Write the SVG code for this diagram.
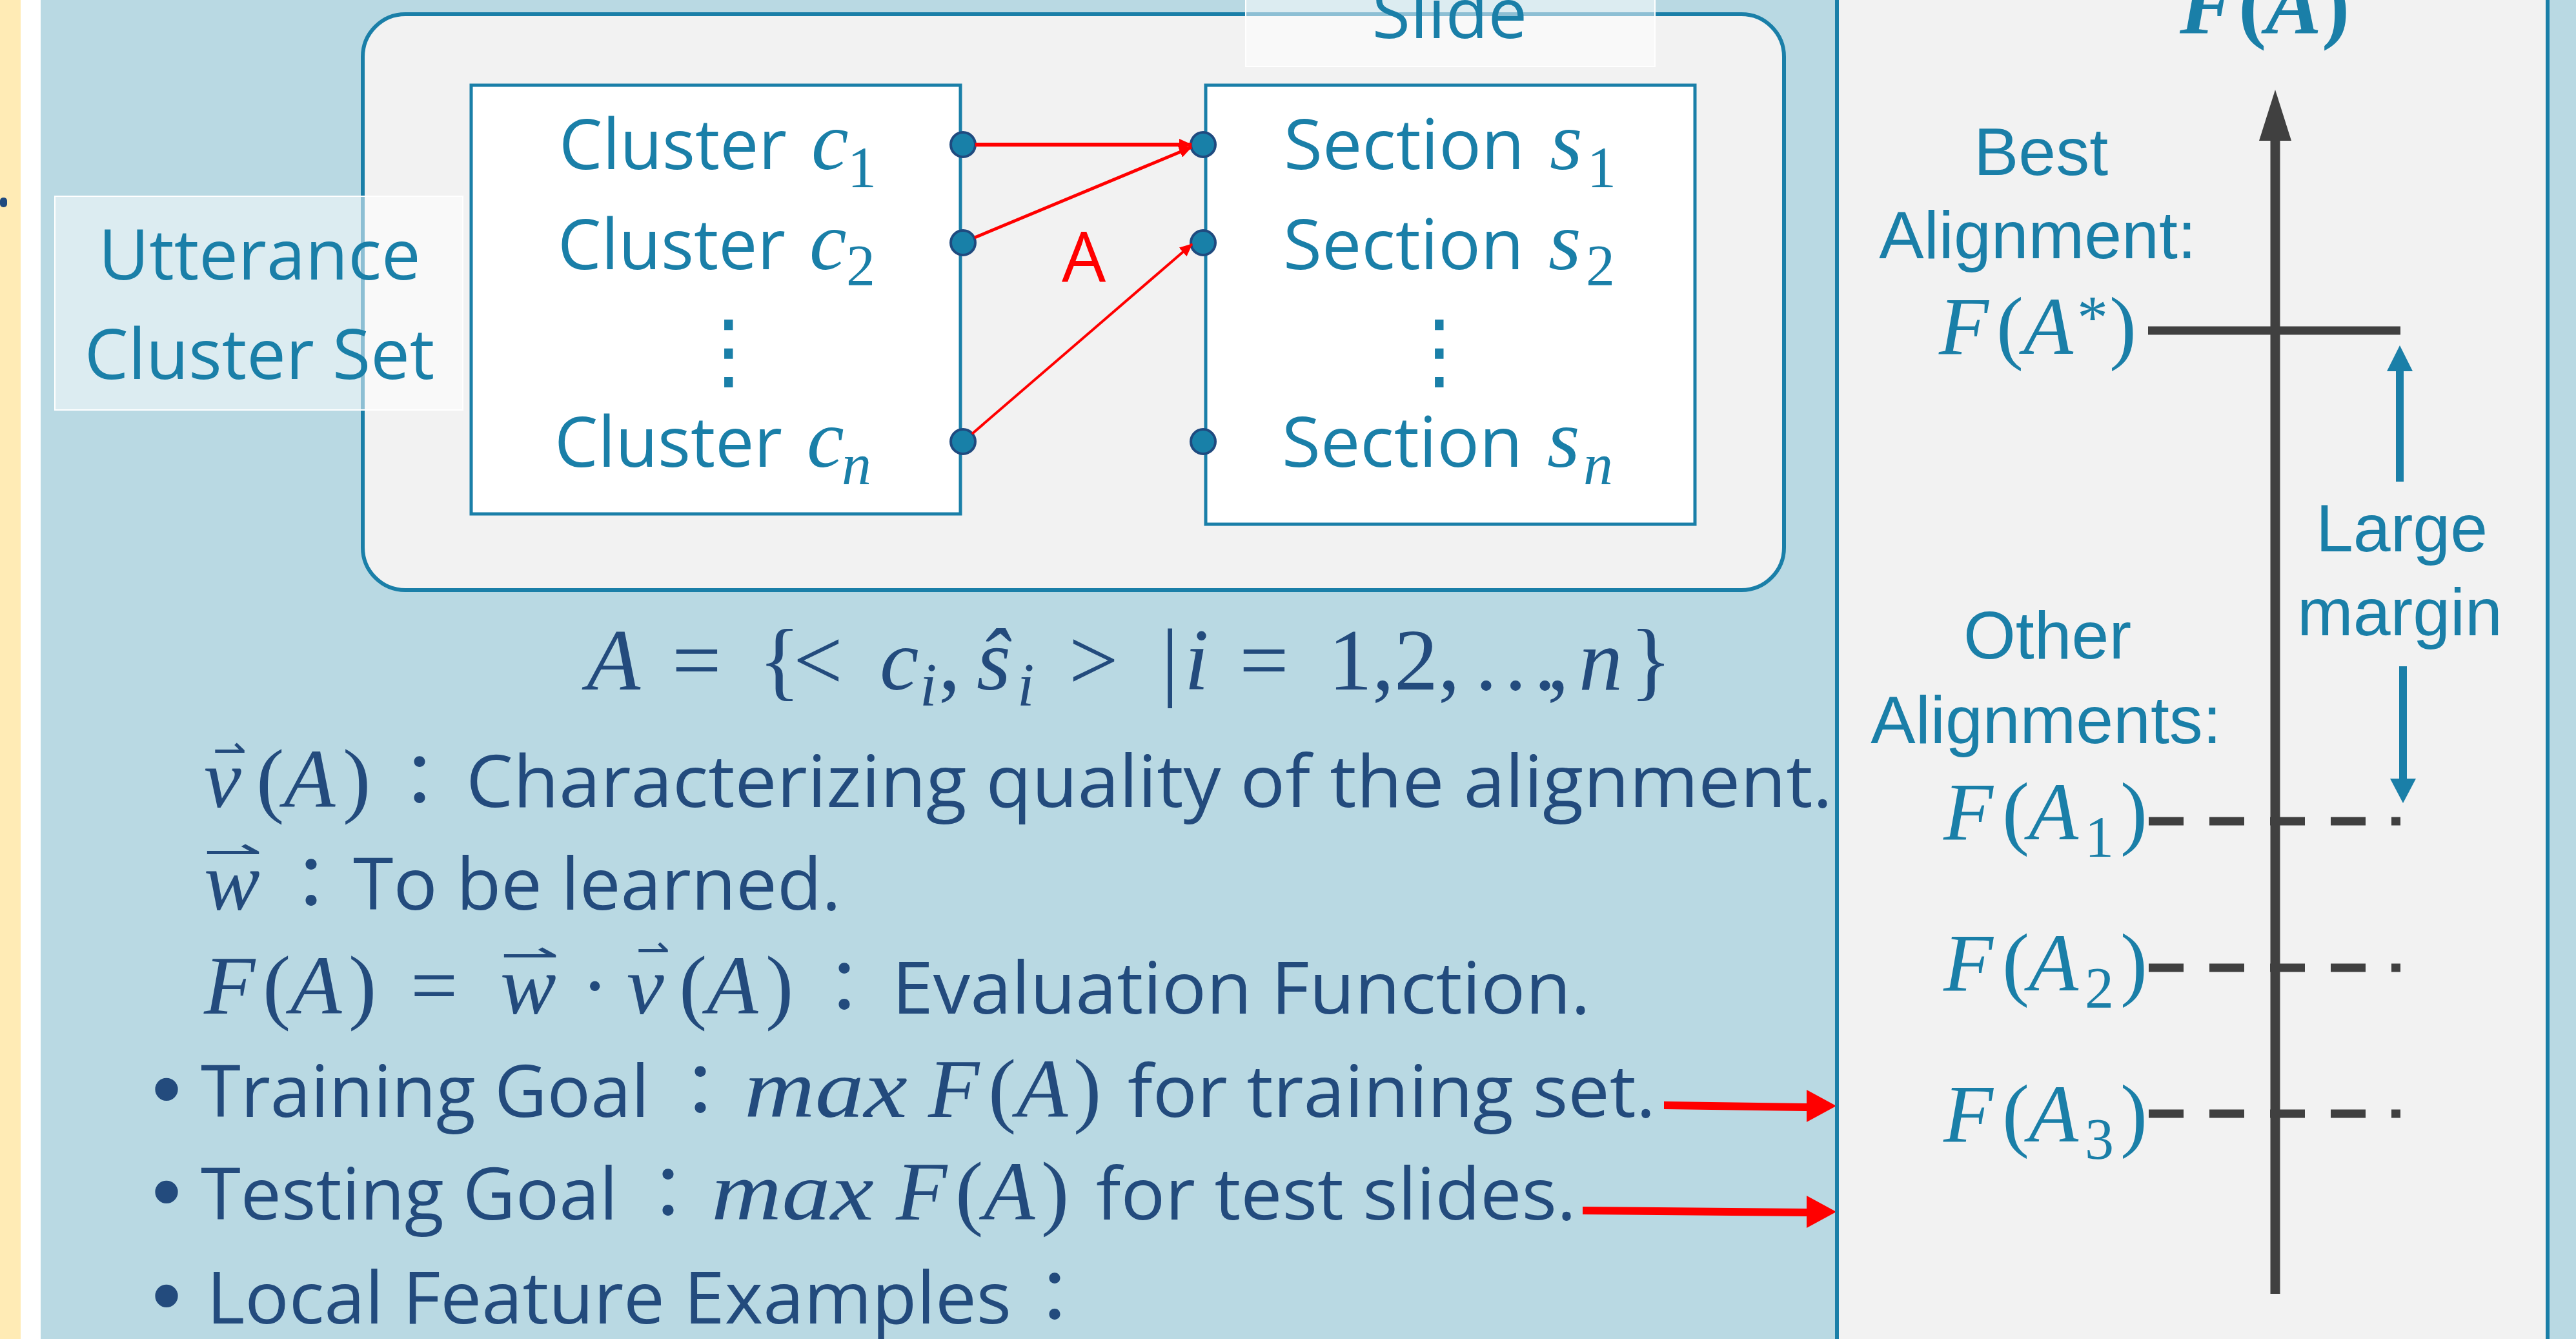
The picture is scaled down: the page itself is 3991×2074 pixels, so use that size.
<svg xmlns="http://www.w3.org/2000/svg" width="3991" height="2074" viewBox="0 0 3991 2074">
<defs>
<style>
.sans{font-family:"Open Sans","Noto Sans CJK TC",sans-serif}
.arial{font-family:"Liberation Sans",Arial,sans-serif}
.m{font-family:"Liberation Serif","DejaVu Serif",serif;font-style:italic}
.mu{font-family:"Liberation Serif","DejaVu Serif",serif}
.harp{font-family:"DejaVu Sans",sans-serif}
.teal{fill:#1a7fa8}
.navy{fill:#234b7d}
.box{fill:#ffffff;stroke:#1a7fa8;stroke-width:5}
.dot{fill:#1880a8;stroke:#1f4a7f;stroke-width:4}
.label{fill:#ffffff;fill-opacity:0.5;stroke:#ffffff;stroke-width:2}
.red{stroke:#ff0000;fill:none}
.dash{stroke:#404040;stroke-width:13;stroke-dasharray:54 40}
</style>
<marker id="ah" markerUnits="userSpaceOnUse" markerWidth="20" markerHeight="18" refX="19" refY="9" orient="auto">
<path d="M0,0 L20,9 L0,18 z" fill="#ff0000"/>
</marker>
</defs>

<!-- background -->
<rect x="0" y="0" width="3991" height="2074" fill="#b9d9e3"/>
<rect x="0" y="0" width="32" height="2074" fill="#ffebb5"/>
<rect x="32" y="0" width="31" height="2074" fill="#ffffff"/>
<rect x="0" y="306" width="11" height="15" rx="5" fill="#1f4a7f"/>

<!-- slide frame -->
<g id="slide-frame">
<rect x="562" y="22" width="2202" height="892" rx="66" ry="66" fill="#f2f2f2" stroke="#1a7fa8" stroke-width="6"/>
</g>

<!-- cluster box -->
<g id="cluster-box">
<rect class="box" x="730" y="132" width="758" height="664"/>
<text class="sans teal" font-size="108" x="866" y="262" textLength="353" lengthAdjust="spacingAndGlyphs">Cluster</text>
<text class="m teal" font-size="130" x="1257" y="262">c</text>
<text class="mu teal" font-size="90" x="1313" y="290">1</text>
<text class="sans teal" font-size="108" x="864" y="417" textLength="353" lengthAdjust="spacingAndGlyphs">Cluster</text>
<text class="m teal" font-size="130" x="1254" y="417">c</text>
<text class="mu teal" font-size="90" x="1311" y="442">2</text>
<text font-family="DejaVu Sans,sans-serif" class="teal" font-size="130" x="1129" y="588" text-anchor="middle">⋮</text>
<text class="sans teal" font-size="108" x="859" y="723" textLength="353" lengthAdjust="spacingAndGlyphs">Cluster</text>
<text class="m teal" font-size="130" x="1250" y="723">c</text>
<text class="m teal" font-size="92" x="1304" y="750">n</text>
<circle class="dot" cx="1492" cy="224" r="19"/>
<circle class="dot" cx="1492" cy="376" r="19"/>
<circle class="dot" cx="1492" cy="684" r="19"/>
</g>

<!-- section box -->
<g id="section-box">
<rect class="box" x="1868" y="132" width="758" height="680"/>
<text class="sans teal" font-size="108" x="1989" y="262" textLength="373" lengthAdjust="spacingAndGlyphs">Section</text>
<text class="m teal" font-size="130" x="2401" y="262">s</text>
<text class="mu teal" font-size="90" x="2459" y="290">1</text>
<text class="sans teal" font-size="108" x="1988" y="417" textLength="373" lengthAdjust="spacingAndGlyphs">Section</text>
<text class="m teal" font-size="130" x="2399" y="417">s</text>
<text class="mu teal" font-size="90" x="2457" y="442">2</text>
<text font-family="DejaVu Sans,sans-serif" class="teal" font-size="130" x="2230" y="588" text-anchor="middle">⋮</text>
<text class="sans teal" font-size="108" x="1986" y="723" textLength="373" lengthAdjust="spacingAndGlyphs">Section</text>
<text class="m teal" font-size="130" x="2397" y="723">s</text>
<text class="m teal" font-size="92" x="2453" y="750">n</text>
<circle class="dot" cx="1864" cy="224" r="19"/>
<circle class="dot" cx="1864" cy="376" r="19"/>
<circle class="dot" cx="1864" cy="684" r="19"/>
</g>

<!-- connectors -->
<g id="connectors">
<line class="red" x1="1511" y1="224" x2="1846" y2="224" stroke-width="6" marker-end="url(#ah)"/>
<line class="red" x1="1510" y1="368" x2="1846" y2="228" stroke-width="5" marker-end="url(#ah)"/>
<line class="red" x1="1506" y1="672" x2="1847" y2="378" stroke-width="4" marker-end="url(#ah)"/>
<path d="M2578,1706 L2800,1709 L2800,1721 L2578,1718 z" fill="#ff0000"/>
<polygon points="2799,1688 2845,1713 2799,1738" fill="#ff0000"/>
<path d="M2452,1869 L2800,1872 L2800,1884 L2452,1881 z" fill="#ff0000"/>
<polygon points="2799,1852 2845,1877 2799,1902" fill="#ff0000"/>
</g>

<text id="alignment-label" class="sans" fill="#ff0000" font-size="108" x="1645" y="437">A</text>

<!-- labels -->
<g id="utterance-label">
<rect class="label" x="85" y="304" width="632" height="331"/>
<text class="sans teal" font-size="108" x="402" y="433" text-anchor="middle">Utterance</text>
<text class="sans teal" font-size="108" x="402" y="587" text-anchor="middle">Cluster Set</text>
</g>
<g id="slide-label">
<rect class="label" x="1930" y="-10" width="634" height="113"/>
<text class="sans teal" font-size="108" x="2246" y="59" text-anchor="middle">Slide</text>
</g>

<!-- formula and text -->
<g id="formula">
<text class="mu navy" font-size="136" y="1068">
<tspan class="m" x="909">A</tspan><tspan x="1041">=</tspan><tspan x="1175">{</tspan><tspan x="1229">&lt;</tspan><tspan class="m" x="1363">c</tspan><tspan class="m" x="1425" y="1093" font-size="95">i</tspan><tspan x="1454" y="1068">,</tspan><tspan class="m" x="1513">ŝ</tspan><tspan class="m" x="1576" y="1093" font-size="95">i</tspan><tspan x="1656" y="1068">&gt;</tspan><tspan x="1799">|</tspan><tspan class="m" x="1835">i</tspan><tspan x="1920">=</tspan><tspan x="2058">1,2,</tspan><tspan x="2280">…</tspan><tspan x="2397">,</tspan><tspan class="m" x="2446">n</tspan><tspan x="2525">}</tspan>
</text>
</g>

<g id="text-lines">
<!-- line 1 -->
<text class="m navy" font-size="130" x="316" y="1250">v</text>
<text class="harp navy" font-size="60" x="330" y="1182" textLength="52" lengthAdjust="spacingAndGlyphs">⇀</text>
<text class="mu navy" font-size="130" y="1250"><tspan x="397">(</tspan><tspan class="m" x="440">A</tspan><tspan x="531">)</tspan></text>
<text class="sans navy" font-size="112" x="650" y="1250" text-anchor="middle">：</text>
<text class="sans navy" font-size="112" x="722" y="1250" textLength="2117" lengthAdjust="spacingAndGlyphs">Characterizing quality of the alignment.</text>
<!-- line 2 -->
<text class="m navy" font-size="130" x="316" y="1409">w</text>
<text class="harp navy" font-size="60" x="315" y="1339" textLength="92" lengthAdjust="spacingAndGlyphs">⇀</text>
<text class="sans navy" font-size="112" x="482" y="1409" text-anchor="middle">：</text>
<text class="sans navy" font-size="112" x="547" y="1409" textLength="756" lengthAdjust="spacingAndGlyphs">To be learned.</text>
<!-- line 3 -->
<text class="mu navy" font-size="130" y="1570"><tspan class="m" x="316">F</tspan><tspan x="407">(</tspan><tspan class="m" x="450">A</tspan><tspan x="540">)</tspan><tspan x="636">=</tspan><tspan class="m" x="775">w</tspan><tspan x="900">·</tspan><tspan class="m" x="971">v</tspan><tspan x="1052">(</tspan><tspan class="m" x="1095">A</tspan><tspan x="1186">)</tspan></text>
<text class="harp navy" font-size="60" x="775" y="1499" textLength="92" lengthAdjust="spacingAndGlyphs">⇀</text>
<text class="harp navy" font-size="60" x="986" y="1491" textLength="52" lengthAdjust="spacingAndGlyphs">⇀</text>
<text class="sans navy" font-size="112" x="1308" y="1570" text-anchor="middle">：</text>
<text class="sans navy" font-size="112" x="1382" y="1570" textLength="1082" lengthAdjust="spacingAndGlyphs">Evaluation Function.</text>
<!-- line 4 -->
<text class="arial navy" font-size="130" x="258" y="1730" text-anchor="middle">•</text>
<text class="sans navy" font-size="112" x="311" y="1730" textLength="695" lengthAdjust="spacingAndGlyphs">Training Goal</text>
<text class="sans navy" font-size="112" x="1085" y="1730" text-anchor="middle">：</text>
<text class="m navy" font-size="130" x="1153" y="1730" textLength="253" lengthAdjust="spacingAndGlyphs">max</text>
<text class="mu navy" font-size="130" y="1730"><tspan class="m" x="1438">F</tspan><tspan x="1531">(</tspan><tspan class="m" x="1575">A</tspan><tspan x="1663">)</tspan></text>
<text class="sans navy" font-size="112" x="1747" y="1730" textLength="818" lengthAdjust="spacingAndGlyphs">for training set.</text>
<!-- line 5 -->
<text class="arial navy" font-size="130" x="258" y="1889" text-anchor="middle">•</text>
<text class="sans navy" font-size="112" x="311" y="1889" textLength="646" lengthAdjust="spacingAndGlyphs">Testing Goal</text>
<text class="sans navy" font-size="112" x="1035" y="1889" text-anchor="middle">：</text>
<text class="m navy" font-size="130" x="1102" y="1889" textLength="252" lengthAdjust="spacingAndGlyphs">max</text>
<text class="mu navy" font-size="130" y="1889"><tspan class="m" x="1388">F</tspan><tspan x="1480">(</tspan><tspan class="m" x="1524">A</tspan><tspan x="1613">)</tspan></text>
<text class="sans navy" font-size="112" x="1698" y="1889" textLength="744" lengthAdjust="spacingAndGlyphs">for test slides.</text>
<!-- line 6 -->
<text class="arial navy" font-size="130" x="258" y="2050" text-anchor="middle">•</text>
<text class="sans navy" font-size="112" x="320" y="2050" textLength="1247" lengthAdjust="spacingAndGlyphs">Local Feature Examples</text>
<text class="sans navy" font-size="112" x="1634" y="2050" text-anchor="middle">：</text>
</g>

<!-- right panel -->
<g id="score-panel">
<rect x="2846" y="-10" width="1101" height="2100" fill="#f2f2f2" stroke="#1a7fa8" stroke-width="6"/>
<text class="mu teal" font-size="130" font-weight="bold" y="51"><tspan class="m" x="3377">F</tspan><tspan x="3468">(</tspan><tspan class="m" x="3510">A</tspan><tspan x="3597">)</tspan></text>
<text class="arial teal" font-size="104" x="3162" y="271" text-anchor="middle">Best</text>
<text class="arial teal" font-size="104" x="3157" y="400" text-anchor="middle">Alignment:</text>
<text class="mu teal" font-size="126" y="548"><tspan class="m" x="3004">F</tspan><tspan x="3093">(</tspan><tspan class="m" x="3135">A</tspan><tspan x="3218" y="524" font-size="96">*</tspan><tspan x="3268" y="548">)</tspan></text>
<text class="arial teal" font-size="104" x="3721" y="854" text-anchor="middle">Large</text>
<text class="arial teal" font-size="104" x="3718" y="984" text-anchor="middle">margin</text>
<text class="arial teal" font-size="104" x="3172" y="1020" text-anchor="middle">Other</text>
<text class="arial teal" font-size="104" x="3170" y="1151" text-anchor="middle">Alignments:</text>
<text class="mu teal" font-size="126" y="1300"><tspan class="m" x="3011">F</tspan><tspan x="3102">(</tspan><tspan class="m" x="3143">A</tspan><tspan x="3230" y="1327" font-size="90">1</tspan><tspan x="3285" y="1300">)</tspan></text>
<text class="mu teal" font-size="126" y="1534"><tspan class="m" x="3011">F</tspan><tspan x="3102">(</tspan><tspan class="m" x="3143">A</tspan><tspan x="3230" y="1561" font-size="90">2</tspan><tspan x="3285" y="1534">)</tspan></text>
<text class="mu teal" font-size="126" y="1768"><tspan class="m" x="3011">F</tspan><tspan x="3102">(</tspan><tspan class="m" x="3143">A</tspan><tspan x="3230" y="1795" font-size="90">3</tspan><tspan x="3285" y="1768">)</tspan></text>
</g>

<g id="axis-connectors">
<line x1="3525" y1="210" x2="3525" y2="2004" stroke="#404040" stroke-width="15"/>
<polygon points="3525,139 3500,218 3550,218" fill="#404040"/>
<line x1="3328" y1="512" x2="3719" y2="512" stroke="#404040" stroke-width="13"/>
<line class="dash" x1="3329" y1="1272" x2="3719" y2="1272"/>
<line class="dash" x1="3329" y1="1499" x2="3719" y2="1499"/>
<line class="dash" x1="3329" y1="1725" x2="3719" y2="1725"/>
<line x1="3718" y1="746" x2="3718" y2="570" stroke="#1a7fa8" stroke-width="12"/>
<polygon points="3718,535 3698,575 3738,575" fill="#1a7fa8"/>
<line x1="3723" y1="1032" x2="3723" y2="1210" stroke="#1a7fa8" stroke-width="12"/>
<polygon points="3723,1244 3703,1206 3743,1206" fill="#1a7fa8"/>
</g>
</svg>
